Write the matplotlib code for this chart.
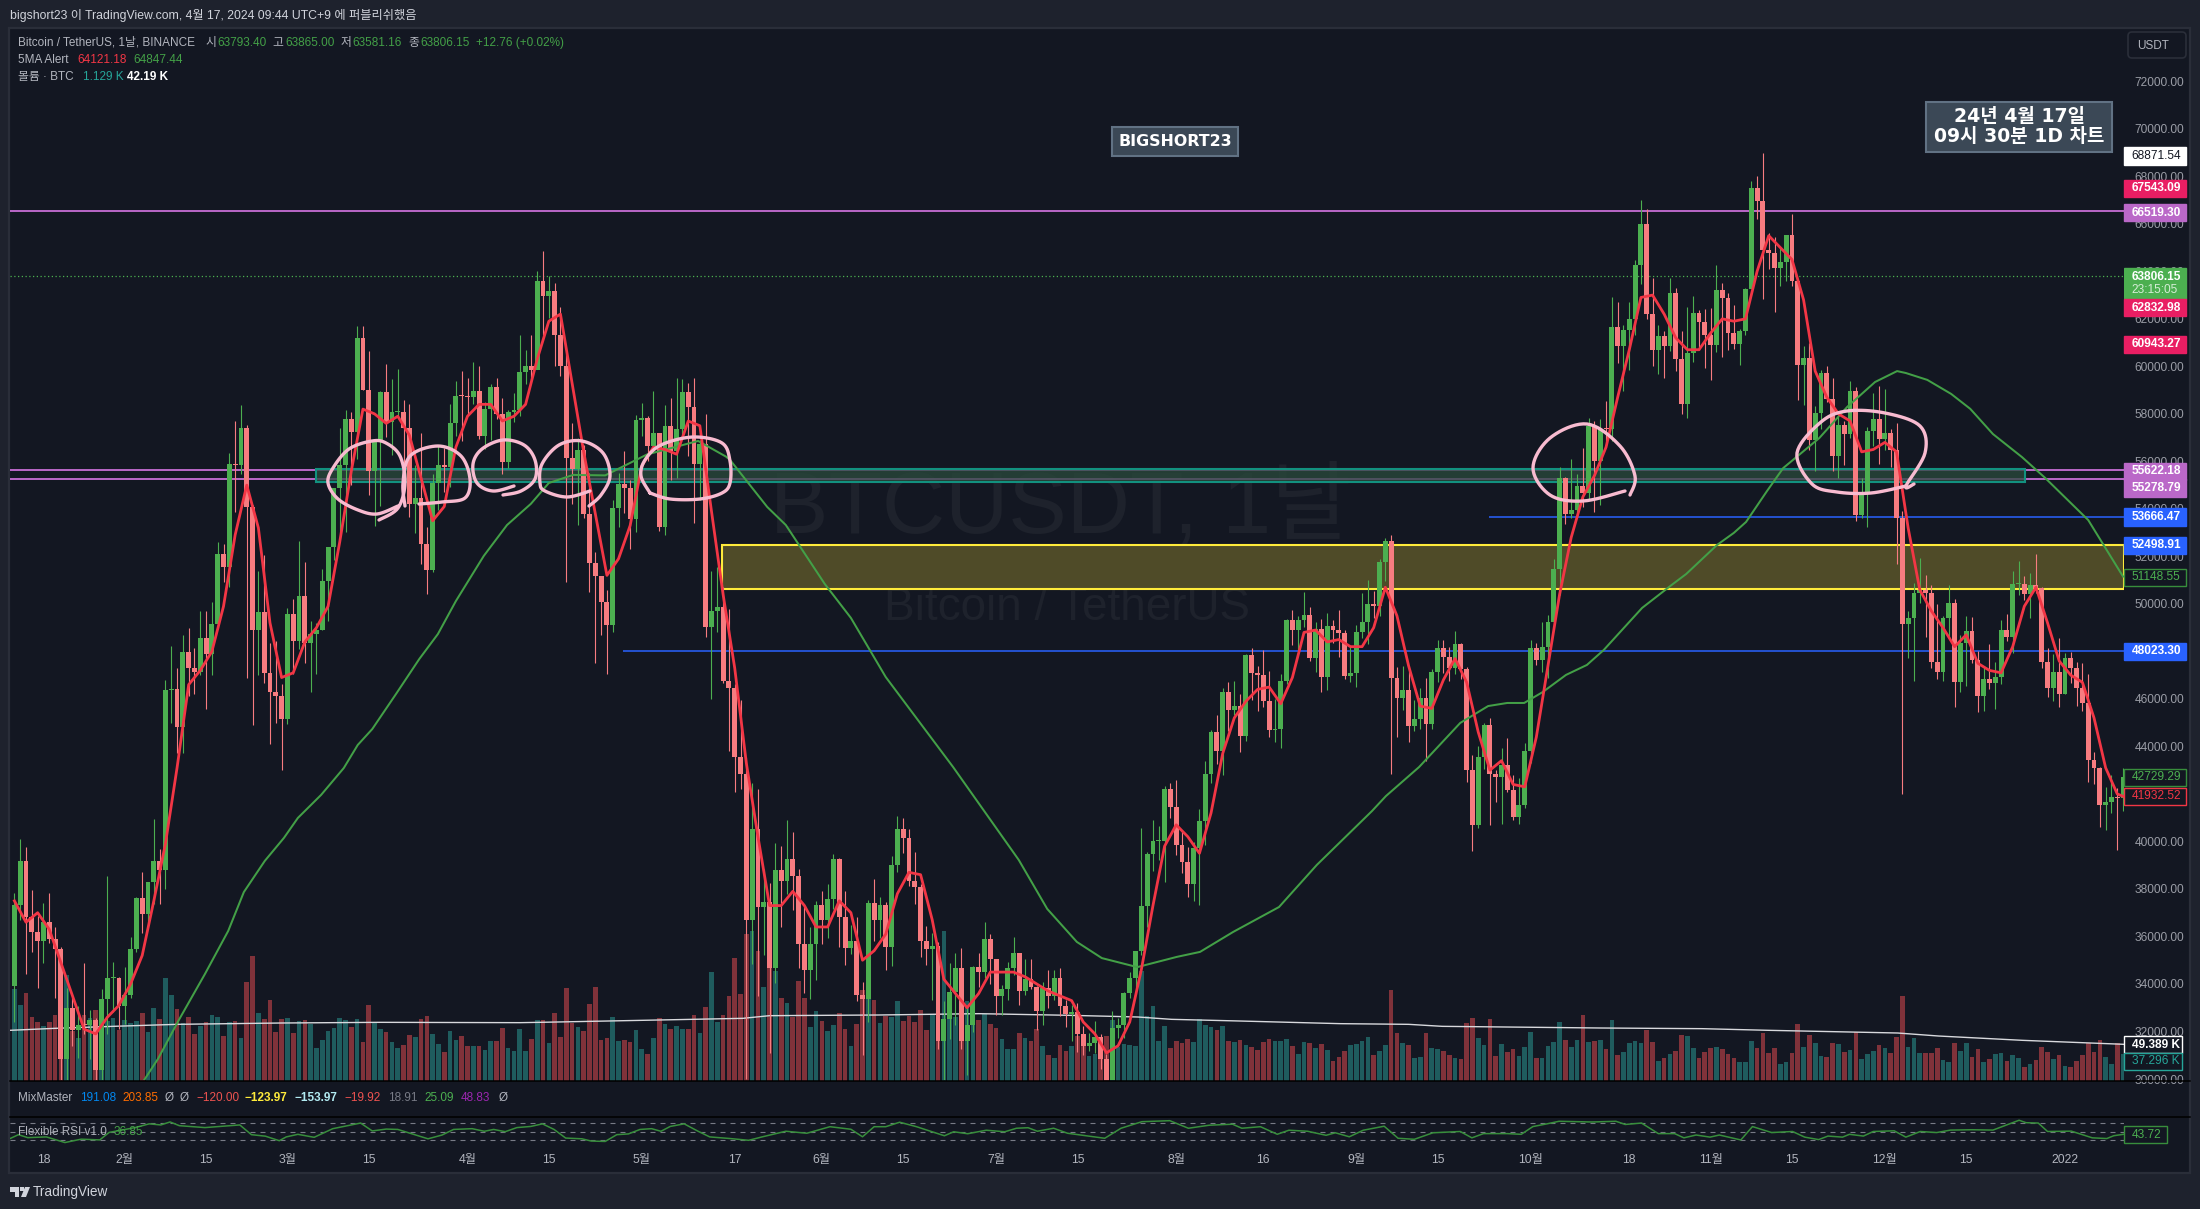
import numpy as np
import matplotlib
matplotlib.use("Agg")
import matplotlib.pyplot as plt
from matplotlib.lines import Line2D
from matplotlib.patches import Rectangle, Polygon, FancyBboxPatch
from matplotlib.transforms import Affine2D

FONT = ['Liberation Sans', 'Noto Sans CJK KR', 'DejaVu Sans']
BOXFONT = ['DejaVu Sans', 'Noto Sans CJK KR']
plt.rcParams['font.family'] = FONT

close = [
 37316,39187,36825,36178,35791,36630,35891,35468,30850,33005,32067,32289,32254,32467,30366,33364,34252,34262,33092,
 33526,35466,37618,36936,38290,39186,38795,46374,46420,44807,47969,47287,47153,48577,47911,49133,52119,51552,55906,55841,57408,54087,48891,49676,47073,46276,46106,45135,
 49587,48440,50349,48374,48751,48882,50971,52375,54884,55851,57773,57221,61188,59000,55600,56900,58913,57665,58075,58085,57411,54204,54478,52508,51408,55074,55863,55783,57635,58746,58740,
 58720,58950,57051,58202,59129,57991,55953,58077,58142,59770,60007,59860,63575,62959,63159,61334,60006,56150,55663,56473,53800,51701,51187,50089,49121,54053,55036,54881,53584,57750,
 57828,56631,57200,53241,57473,56428,57380,58928,58280,55883,56750,49007,49716,49880,46760,46456,43538,42849,36690,40526,37252,37449,34655,38796,38324,39241,38529,35664,34605,35684,37340,
 36693,37568,39246,36829,35520,35796,33552,33380,37389,36693,37313,35546,39020,40516,40144,38349,38092,35819,35483,35600,31608,32509,33678,34663,31584,32283,34700,34494,35911,35045,
 33504,33786,34669,35287,33690,34220,33863,32875,33815,33502,34259,33086,32729,32820,31880,31383,31520,31778,30839,29790,32144,32287,33634,34258,35381,37276,39474,40016,40016,42206,41461,
 39845,39147,38207,39723,40862,42836,44614,43792,46285,45543,45702,44422,47833,47109,47014,45902,44686,44741,46760,49339,48905,49321,49546,47706,48960,46942,49058,48897,48767,46970,47100,
 48810,49246,49999,49915,51756,52663,46863,46048,46395,44850,45173,46026,44947,47127,48148,47753,47303,48307,47260,43012,40693,43575,44895,42839,42717,43208,42171,41030,41519,43824,
 48141,47634,48200,49224,51471,55315,53785,53951,54949,54659,57471,56005,57367,57347,61672,60875,61528,62009,64280,66001,62193,60688,61286,60852,63078,60328,58413,60575,62253,61859,61299,
 60911,63219,62896,61395,60937,61470,63273,67525,66947,64882,64774,64122,64380,65519,63606,60058,60344,56891,58052,59707,58622,56247,57541,57138,58960,53726,54721,57274,57776,56950,
 57184,56480,53601,49152,49396,50441,50588,50471,47545,47140,49389,50053,46702,48343,48864,47632,46131,46834,46681,46914,48889,48588,50818,50854,50428,50801,50679,47543,46464,47120,46216,
 47722,47286,46446,45833,43431,43097,41546,41672,41864,41822,42729]
high = [
 37850,40100,39747,37950,36852,37399,37850,36415,35552,33826,33456,33071,34875,32921,32557,33783,38531,34934,34288,
 34717,35984,37662,38708,38310,40955,39700,46794,48216,47310,48678,48985,48150,49707,49700,50080,52618,52530,56368,57700,58352,57533,54183,51374,52041,48370,48425,46638,
 49829,50200,52640,51773,49300,49200,51450,52402,54895,57387,58150,58058,61683,61718,60633,56938,58974,60100,59451,59880,58592,58433,55830,57200,53229,55450,56700,56559,58405,59368,59800,
 59490,60200,60000,58488,59272,59500,58650,58153,58869,61300,60670,61300,64000,64854,63800,63520,62506,60499,57600,57000,56700,55521,52200,51167,50591,54356,55500,56428,55195,57963,
 58458,57911,58981,57200,58360,58650,59500,59464,59300,59500,56900,58000,51367,51540,50700,49800,46643,45950,43546,42451,42200,38856,38270,39920,39791,40900,40411,38856,37234,36400,37499,
 37896,38225,39476,39289,37925,36480,36800,34068,37534,38400,37680,37437,39380,41064,40978,40527,39559,38202,36457,36139,35750,33298,34881,35298,35500,33000,34749,35297,36600,36100,
 35036,33977,34945,35967,35118,35059,35056,33929,34100,34584,34594,34679,33340,33114,33185,32249,31949,32435,31899,31038,32858,32576,33650,34500,35398,40550,39542,40900,40640,42316,42448,
 42599,40499,39780,39969,41350,43392,44700,45310,46454,46700,46743,46218,47886,48144,47372,48053,47160,46000,47033,49382,49757,49500,50500,49875,49250,49355,49632,49309,49757,48909,48246,
 49125,50450,51000,50558,51900,52780,52920,47340,47400,47250,45969,46460,46880,47250,48500,48488,48177,48843,48372,47347,43639,44000,44978,45200,42999,43920,44350,42787,42690,44141,
 48495,48350,49228,49536,51895,55750,55332,56100,55489,56561,57839,57680,57777,58532,62933,62695,61720,62695,64486,67000,66639,63732,61747,61490,63710,63293,61496,62499,62980,62359,62405,
 62437,64270,63500,63086,62600,61560,63286,67789,68000,69000,65600,65450,64972,65550,66401,63616,60840,60977,58320,59845,60029,59500,57890,57700,59398,59150,55280,57445,58865,59176,
 59053,57375,57600,53904,49699,50891,51936,51200,50797,50015,49485,50777,50189,48700,49500,49436,48004,47360,48300,47537,49328,49576,51375,51810,51156,51280,52088,50704,48139,47900,48548,
 47954,47990,47570,47505,47070,43748,43145,42300,42786,42248,43100]
low = [
 32380,36701,34408,35357,33850,34875,35741,33400,28850,28800,31390,30900,31910,30837,29241,29842,31915,32825,32089,
 32296,33418,35362,36161,36570,37351,37351,37988,45000,43727,43727,46125,46202,47014,45570,47003,48947,50901,50710,53863,55477,46900,44892,47003,46674,44106,45000,43000,
 44950,47047,48100,47500,46300,47070,48882,49274,51845,53005,53025,55013,56100,59000,54568,53271,54123,57023,56270,57820,55450,53650,53000,51700,50427,51329,53961,54691,54901,57072,56872,
 57935,58428,56956,56500,56900,57801,55473,55700,57654,57900,59237,59369,59880,61301,62020,60000,59580,50931,54187,53329,53600,50500,47500,48676,47044,48807,53222,53813,52330,53013,
 57052,56035,56900,53057,52900,55200,55300,56975,56235,53400,54370,48600,46000,48800,46650,43825,42101,42207,30000,34850,33488,35200,31111,34031,36419,37800,37134,34684,33632,33379,34153,
 35666,35920,37170,35555,34800,35258,33300,31000,32396,35800,35936,34600,34757,38733,39506,38116,37365,35129,34803,33336,31251,28805,31683,32286,31275,30151,31973,33862,34231,34017,
 32711,32699,33316,34357,33125,33532,33770,32077,32261,33004,33306,32658,32200,31600,31133,31020,31179,31108,30407,29278,29482,31708,31716,33401,33851,35205,36383,38772,39200,38313,41000,
 39422,38690,37642,37508,37332,39853,42450,43261,42780,44663,45341,43770,44217,45971,45500,45660,44376,44203,43927,46646,48285,48074,49028,47600,47135,46300,46374,48371,47762,46853,46700,
 46512,48584,48316,49412,49500,50969,42843,44412,45513,44203,44669,44742,43370,44750,46700,47079,46750,47050,46829,42500,39600,40565,43069,40675,41646,40750,42098,40888,40753,41410,
 43283,47430,47120,46891,49056,50382,53357,53617,53661,54080,54415,53879,54167,56818,56850,60122,58963,59844,61322,63481,62000,60000,59668,59522,60650,59817,58000,57820,60174,60673,59945,
 59405,60624,60382,60677,60721,60050,61322,63286,66222,62822,64100,62278,63400,63576,63400,58574,58373,56474,55600,57353,58486,55610,55317,55837,57000,53500,53610,53256,56666,55875,
 56458,55777,51680,42000,47727,46751,50039,48600,47320,46851,46751,48638,45672,46290,46547,47511,45456,45500,46406,45558,46630,48421,47920,50384,50171,49426,50459,47313,46096,45900,45678,
 46208,46654,45696,45502,42500,42430,40610,40501,41200,39650,41268]
first_open = 33922

# volume, in panel units (3 units = 1 screen pixel)
volume = [
 275,228,264,192,177,165,177,198,270,318, 150,130,198,188,213,175,180,188,153,183,
 174,180,204,146,219,186,309,258,216,174, 192,141,165,177,198,192,135,177,180,129,
 297,375,204,186,243,147,186,189,144,180, 183,171,99,123,150,159,189,183,162,186,
 117,228,174,156,147,117,99,108,138,132, 186,195,141,111,87,150,123,135,105,105,
 105,93,120,120,159,99,90,156,90,126, 183,183,114,204,132,279,174,162,150,231,
 282,123,129,192,120,123,117,153,96,81, 129,189,171,156,165,156,156,198,144,222,
 327,177,198,255,369,261,440,450,390,282, 340,330,249,234,192,300,249,162,210,180,
 150,168,204,156,105,171,272,250,243,174, 195,192,240,180,195,177,213,153,200,400,
 450,230,192,200,240,210,183,200,171,159, 126,96,96,144,129,120,156,105,78,69,
 108,90,105,135,120,75,81,130,135,183, 102,111,108,105,330,195,225,120,165,99,
 120,114,126,117,186,168,162,153,165,120, 117,123,108,102,93,117,126,120,120,126,
 105,81,117,114,99,111,93,60,72,90, 108,111,120,132,78,90,108,273,144,114,
 108,69,72,144,99,96,90,78,69,66, 174,189,129,108,186,75,111,87,96,75,
 102,147,69,69,105,117,177,123,102,123, 198,117,120,123,96,183,78,87,114,120,
 114,153,117,60,69,81,90,138,135,99, 69,87,99,102,96,81,69,57,57,120,
 99,144,84,99,51,57,84,171,102,138, 114,75,72,114,111,87,93,147,66,81,
 90,108,99,84,132,255,102,129,84,84, 84,99,63,57,114,90,114,72,96,57,
 66,81,84,60,78,69,42,51,63,102, 87,66,78,45,42,60,78,114,87,123,
 72,51,114,80]

# 5MA (red line) every second bar, in thousands
ma5_k = [37.5,36.6,37.0,36.3,34.9,33.5,32.1,31.9,32.6,33.1,34.0,35.2,37.5,39.9,43.1,46.6,47.2,48.0,49.9,52.9,55.0,53.2,49.2,46.9,47.1,48.4,49.0,49.9,52.6,55.6,58.2,58.0,57.6,57.9,57.1,55.3,53.5,54.1,56.6,57.9,58.4,58.4,57.7,57.9,58.4,60.3,61.9,62.2,59.3,56.4,53.8,51.2,51.9,53.3,55.8,
 56.6,56.5,56.3,57.7,57.5,53.9,50.4,47.3,43.3,40.2,37.3,37.3,37.9,37.3,36.4,36.4,37.5,37.0,35.0,35.4,36.1,37.8,38.7,38.6,36.7,34.2,33.6,33.0,33.6,34.5,34.5,34.5,34.3,34.0,33.7,33.5,33.3,32.4,31.9,31.1,31.4,32.4,34.6,37.3,39.8,
 40.7,40.2,39.5,41.2,43.7,45.2,45.9,46.4,46.5,45.8,46.9,48.8,48.9,48.4,48.5,48.2,48.2,49.0,50.7,49.5,47.4,45.7,45.6,46.8,47.7,46.7,44.6,43.0,43.4,42.4,42.3,44.4,47.4,50.4,52.8,54.5,55.4,56.6,58.7,60.7,62.9,63.0,62.2,61.2,60.7,60.7,61.4,62.0,61.9,62.0,64.0,65.5,65.0,64.5,62.8,59.8,58.7,58.0,57.7,56.4,56.5,56.8,56.4,53.2,50.6,49.7,49.0,48.2,48.7,47.5,47.2,47.1,48.2,49.9,50.7,49.2,47.6,47.0,46.7,45.2,43.1,42.0]
ma5_last_k = 41.9

# long moving average (green line): bar position, value in thousands
ma_long_x = [22.1,24.7,28.3,32.8,36.8,39.5,43.1,46.4,48.8,52.8,56.7,59.1,61.6,65.7,69.7,72.9,76.0,80.8,84.8,88.9,92.0,96.2,101.7,108.9,117.7,122.5,123.2,129.6,132.8,139.5,144.0,150.0,161.6,172.9,177.8,182.9,187.2,193.3,200.1,204.1,209.8,217.7,224.2,233.7,236.1,241.8,248.9,253.7,257.0,259.9,263.1,267.1,270.7,273.6,280.2,285.3,287.8,293.1,296.0,298.1,301.7,304.5,310.7,315.5,320.3,324.1,325.6,329.3,333.4,336.7,340.6,345.6,349.6,357.0,363.0]
ma_long_k = [29.87,30.84,32.48,34.42,36.23,37.87,39.18,40.15,40.99,41.96,43.09,44.06,44.73,46.21,47.68,48.73,50.12,52.02,53.32,54.21,55.09,55.43,55.41,56.29,56.86,56.2,56.06,54.08,53.32,50.84,49.41,46.92,43.13,39.22,37.16,35.77,35.09,34.71,35.14,35.35,36.19,37.24,39.01,41.28,41.91,43.13,44.99,45.70,45.83,45.83,46.29,47.01,47.43,48.06,49.83,50.80,51.26,52.48,52.99,53.45,54.75,55.72,56.98,58.29,59.34,59.80,59.72,59.43,58.84,58.21,57.15,56.18,55.30,53.53,51.15]

# volume average (white line)
vol_ma_x = [-0.8,7,17,28,46,63,87,90.5,108,125.4,130,148.7,166,181.8,193.4,199.2,210.9,228.3,240,245.8,273,290.5,302.1,324.2,331.2,345.7,363.2]
vol_ma = [152,158,164,170,174,176,175,176,182,188,196,198,202,197,192,185,180,172,170,164,159,157,152,144,135,122,110]

rsi_x = [-0.7,0.7,2.3,5.5,8.7,11.5,14.7,16.3,20.8,23.2,25.2,26.8,28.4,32.8,38.8,40.8,43.2,45.6,46.8,48.8,51.6,54.8,59.6,61.6,64,66,71.2,73.6,75.6,78.8,80.9,82.5,84.5,86.5,88.9,90.9,92.9,94.9,97.7,99.3,101.7,103.7,105.7,107.7,109.7,111.3,112.9,115.3,117.7,119.7,123.2,
 126.4,128.8,132.8,136.4,140.4,144,146,148,150,152.4,155.3,160.1,161.7,164.1,167.3,170.5,172.5,174.5,176.1,178.9,181.3,185.7,187.7,190.5,194.1,198.9,202.1,205.7,209.7,211.3,214.5,217.4,219.4,222.6,225.8,227.4,229.8,232.2,235.8,238.2,241,244.2,248.9,
 250.9,252.9,257,259.4,261.4,263.9,265.9,271.6,275.7,277.3,280.1,283,285.8,287.4,289.5,291.9,293.5,297.2,299.2,302.5,306.1,308.2,310.6,312.2,314.7,315.9,318.3,320,323.6,325.6,328.1,330.9,333.3,337,340.6,345.1,346.3,348.4,350,354.1,357.7,360.2,361.4,363.1]
rsi = [34.3,42.8,36,37.7,24.9,32.6,30.9,47.9,58.9,67.4,64.9,71.7,63.2,58.9,64.9,42.8,39.4,29.1,37.7,43.6,36.8,56.4,69.2,51.3,55.5,54.7,33.4,41.9,54.7,56.4,50.5,54.7,49.6,58.9,61.5,67.4,54.7,35.1,33.4,28.3,27.4,42.8,44.5,54.7,56.4,50.5,61.5,67.4,50.5,37.7,34.0,
 30,38,50.6,46,60.9,55.1,38,60.9,60.9,71.1,60.9,40.3,49.4,44.9,52.9,49.4,57.4,58.6,50.6,57.4,46,38,34.6,57.4,72.3,74.6,57.4,64.3,66.6,57.4,60.9,43.7,52.9,50.6,41.4,47.1,38,52.9,62,34.6,32.3,47.1,50.0,
 35.6,45.2,45.2,43.6,61.2,67.6,73.2,71.6,73.2,66,69.2,45.2,45.2,35.6,42,37.2,42,30.8,61.2,47.6,50,37.2,31.6,39.6,37.2,43.6,39.6,50,51.6,37.2,50,47.6,53.2,54,53.2,75.6,70,69.2,50,50.8,35.6,34,40.4,43.7]

tick_pos = [5,19,33,47,61,78,92,108,124,139,153,169,183,200,215,231,245,261,278,292,306,322,336,353]
tick_lab = ['18','2월','15','3월','15','4월','15','5월','17','6월','15','7월','15','8월','16','9월','15','10월','18','11월','15','12월','15','2022']
price_ticks = list(range(30000, 72001, 2000))

W, H = 2200, 1209
YS = 1.0   # global downward shift of the layout, px
BG = '#131722'; PAGE = '#1e222d'; EDGE = '#2a2e39'
UP = '#4caf50'; DN = '#f77c80'; VUP = '#1f5c5e'; VDN = '#80323a'
GREY = '#b2b5be'

fig = plt.figure(figsize=(22, 12.09), dpi=100, facecolor=PAGE)
px = Affine2D().scale(1, -1).translate(0, H - YS)

def add_ax(x0, y0, x1, y1, z):
    a = fig.add_axes([x0/W, 1-(y1+YS)/H, (x1-x0)/W, (y1-y0)/H], zorder=z)
    a.set_facecolor('none')
    for s in a.spines.values():
        s.set_visible(False)
    a.tick_params(length=0, labelleft=False, labelbottom=False)
    return a

fig.add_artist(Rectangle((8.5, 26.5), 2181, 1145, transform=px, facecolor=BG, edgecolor=EDGE, linewidth=1.6, zorder=0))

SLOPE = 0.023755; Y30K = 1078.0; BAR0 = 14.4; BARW = 5.809
price_of = lambda y: 30000 + (Y30K - y) / SLOPE
idx_of = lambda x: (x - BAR0) / BARW
XL = (idx_of(10), idx_of(2124))

# ---- volume pane (behind)
vax = add_ax(10, 28, 2124, 1080, 1)
vax.set_xlim(*XL); vax.set_ylim(0, (1080-28)*3)
x = np.arange(len(close))
opn = [first_open] + close[:-1]
isup = np.array(close) >= np.array(opn)
vax.bar(x, volume, width=0.80, color=[VUP if u else VDN for u in isup], linewidth=0)
vax.plot(vol_ma_x, vol_ma, color='#d8d9dd', lw=1.0, solid_capstyle='butt')
vax.text(1061, 508, 'BTCUSDT, 1날', transform=px, ha='center', va='center', fontsize=63, color='#1e222c')
vax.text(1067, 607, 'Bitcoin / TetherUS', transform=px, ha='center', va='center', fontsize=33, color='#1e222c')

# ---- price pane
ax = add_ax(10, 28, 2124, 1079, 2)
ax.set_xlim(*XL); ax.set_ylim(price_of(1079), price_of(28))
for p, x0 in [(66519.30, XL[0]), (55622.18, XL[0]), (55278.79, XL[0])]:
    ax.hlines(p, x0, XL[1], color='#ba68c8', lw=1.4, zorder=1.2)
for p, x0 in [(53666.47, idx_of(1489)), (48023.30, idx_of(623))]:
    ax.hlines(p, x0, XL[1], color='#2962ff', lw=1.1, zorder=1.2)
ax.hlines(63806.15, XL[0], XL[1], color=UP, lw=0.9, linestyles=(0, (1, 2)), zorder=1.2)
ax.add_patch(Rectangle((idx_of(722), 50627), XL[1]-idx_of(722), 52498.91-50627, facecolor='#4f4b28', edgecolor='#ffeb3b', lw=1.5, zorder=1))
ax.add_patch(Rectangle((idx_of(316), 55132), idx_of(2025)-idx_of(316), 55658-55132, facecolor='#2a4a3c', alpha=0.75, edgecolor='none', zorder=1.3))
ax.add_patch(Rectangle((idx_of(316), 55132), idx_of(2025)-idx_of(316), 55658-55132, facecolor='none', edgecolor='#12917f', lw=1.5, zorder=1.4))

cols = [UP if u else DN for u in isup]
ax.vlines(x, low, high, colors=cols, lw=0.8, zorder=2)
bott = np.minimum(opn, close); top = np.maximum(opn, close)
ax.bar(x, np.maximum(top-bott, 45), bottom=bott, width=0.84, color=cols, linewidth=0, zorder=2.1)
ax.plot(ma_long_x, np.array(ma_long_k)*1000, color='#43a047', lw=1.45, zorder=3)
ma5_x = list(range(0, 364, 2)) + [363]
ax.plot(ma5_x, np.array(ma5_k + [ma5_last_k])*1000, color='#f23645', lw=2.0, zorder=3.2, solid_joinstyle='round')

# ---- indicator panes
fig.add_artist(Line2D([10, 2190], [1080, 1080], transform=px, color='#000000', lw=1.1, zorder=5))
fig.add_artist(Line2D([10, 2190], [1115.5, 1115.5], transform=px, color='#000000', lw=1.1, zorder=5))
rax_i = add_ax(10, 1116, 2124, 1150, 2)
rax_i.set_xlim(*XL); rax_i.set_ylim(50-(1150-1130.5)/0.44, 50+(1130.5-1116)/0.44)
for lv in (30, 50, 70):
    rax_i.axhline(lv, color='#787b86', lw=0.8, ls=(0, (4.5, 4.5)))
rax_i.plot(rsi_x, rsi, color='#388e3c', lw=1.1)
rax_i.set_xticks(tick_pos, tick_lab)
rax_i.tick_params(axis='x', labelbottom=True, labelsize=8.8, labelcolor=GREY, pad=2)

# ---- price scale
rp = add_ax(2124, 28, 2190, 1079, 3)
rp.set_xlim(2124, 2190); rp.set_ylim(price_of(1079), price_of(28))
rp.set_yticks(price_ticks, [f'{t:.2f}' for t in price_ticks])
rp.tick_params(axis='y', labelleft=True, labelsize=8.6, labelcolor='#9a9da6', pad=-7.7)
rp.set_axisbelow(True)
for t in rp.get_yticklabels():
    t.set_ha('left'); t.set_zorder(0.5)

def plabel(y, text, bg, fg, edge=None, x1=2186, h=17, weight='bold', size=8.6):
    rp.add_patch(Rectangle((2124, price_of(y+h/2)), x1-2124, h/SLOPE, facecolor=bg,
                           edgecolor=edge or bg, lw=1.0, zorder=3, clip_on=False))
    rp.text(2131.7, price_of(y), text, color=fg, fontsize=size, fontweight=weight, va='center', ha='left', zorder=4, clip_on=False)

plabel(155, '68871.54', '#ffffff', '#131722', weight='normal')
plabel(187, '67543.09', '#e91e63', '#ffffff')
plabel(211.5, '66519.30', '#ba68c8', '#ffffff')
rp.add_patch(Rectangle((2124, price_of(297.7)), 62, (297.7-267)/SLOPE, facecolor=UP, edgecolor=UP, zorder=3))
rp.text(2131.7, price_of(276), '63806.15', color='#ffffff', fontsize=8.6, fontweight='bold', va='center', zorder=4)
rp.text(2131.7, price_of(289), '23:15:05', color='#d5edd6', fontsize=8.6, va='center', zorder=4)
plabel(306.7, '62832.98', '#e91e63', '#ffffff')
plabel(343, '60943.27', '#e91e63', '#ffffff')
plabel(470, '55622.18', '#ba68c8', '#ffffff')
plabel(487, '55278.79', '#ba68c8', '#ffffff')
plabel(516, '53666.47', '#2962ff', '#ffffff')
plabel(544, '52498.91', '#2962ff', '#ffffff')
plabel(576.5, '51148.55', BG, '#4caf50', edge='#388e3c', weight='normal')
plabel(650, '48023.30', '#2962ff', '#ffffff')
plabel(776.4, '42729.29', BG, '#4caf50', edge='#388e3c', weight='normal')
plabel(795, '41932.52', BG, '#f23645', edge='#f23645', weight='normal')
plabel(1043.5, '49.389 K', BG, '#ffffff', edge='#ffffff', x1=2182)
plabel(1060.5, '37.296 K', BG, '#26a69a', edge='#26a69a', x1=2182, weight='normal')
fig.add_artist(Rectangle((2124, 1125), 43, 17, transform=px, facecolor=BG, edgecolor='#388e3c', lw=1, zorder=6))
fig.text(2131.7, 1133.5, '43.72', transform=px, color='#4caf50', fontsize=8.6, va='center', zorder=7)

def T(x, y, s, color=GREY, size=8.5, weight='normal', **k):
    fig.text(x, y, s, transform=px, color=color, fontsize=size, fontweight=weight, va='center', ha=k.pop('ha', 'left'), zorder=7, **k)

T(10, 14.7, 'bigshort23 이 TradingView.com, 4월 17, 2024 09:44 UTC+9 에 퍼블리쉬했음', '#d1d4dc', 8.8)
G = '#43a047'
for xx, s, c in [(18, 'Bitcoin / TetherUS, 1날, BINANCE', GREY), (205.5, '시', GREY), (217, '63793.40', G), (272.5, '고', GREY), (285, '63865.00', G),
                 (341, '저', GREY), (352.5, '63581.16', G), (408, '종', GREY), (420, '63806.15', G), (476, '+12.76 (+0.02%)', G)]:
    T(xx, 41.7, s, c)
for xx, s, c in [(18, '5MA Alert', GREY), (77, '64121.18', '#f23645'), (133, '64847.44', G)]:
    T(xx, 58.7, s, c)
T(18, 75.7, '볼륨 · BTC', GREY); T(82.7, 75.7, '1.129 K', '#26a69a'); T(127, 75.7, '42.19 K', '#ffffff', weight='bold')

for xx, s, c, w in [(18, 'MixMaster', GREY, 'normal'), (79.7, '191.08', '#0288f0', 'normal'), (122, '203.85', '#ff6d00', 'normal'), (165, 'Ø', GREY, 'normal'),
                    (180, 'Ø', GREY, 'normal'), (196, '−120.00', '#ef5350', 'normal'), (245, '−123.97', '#ffeb3b', 'bold'), (295, '−153.97', '#b2ebf2', 'bold'),
                    (344, '−19.92', '#ef5350', 'normal'), (388, '18.91', '#787b86', 'normal'), (424, '25.09', '#4caf50', 'normal'), (461, '48.83', '#9c27b0', 'normal'), (499, 'Ø', GREY, 'normal')]:
    T(xx, 1096.7, s, c, weight=w)
T(18, 1130.7, 'Flexible RSI v1.0', GREY); T(114, 1130.7, '36.85', G)

# boxes
fig.add_artist(Rectangle((1112, 126), 126, 29, transform=px, facecolor='#3b4856', edgecolor='#617284', lw=1.5, zorder=6))
T(1175, 140.5, 'BIGSHORT23', '#ffffff', 11.4, 'bold', ha='center', family=BOXFONT)
fig.add_artist(Rectangle((1926, 100.5), 186, 50, transform=px, facecolor='#3b4856', edgecolor='#617284', lw=1.5, zorder=6))
T(2019, 115, '24년 4월 17일', '#ffffff', 13.6, 'bold', ha='center', family=BOXFONT)
T(2019, 135, '09시 30분 1D 차트', '#ffffff', 13.6, 'bold', ha='center', family=BOXFONT)
fig.add_artist(FancyBboxPatch((2130, 33), 54, 22, boxstyle='round,pad=2,rounding_size=4', transform=px, facecolor=BG, edgecolor=EDGE, lw=1.2, zorder=6))
T(2137, 44.7, 'USDT', GREY, 8.5)

# TradingView mark
for poly in ([(10, 1186), (19, 1186), (19, 1196), (15, 1196), (15, 1190.5), (10, 1190.5)],
             [(30, 1186), (26, 1196), (21, 1196), (25, 1186)]):
    fig.add_artist(Polygon(poly, closed=True, transform=px, facecolor='#d1d4dc', edgecolor='none', zorder=6))
fig.add_artist(Rectangle((20.3, 1186), 3.4, 3.8, transform=px, facecolor='#d1d4dc', edgecolor='none', zorder=6))
T(33, 1191, 'TradingView', '#d1d4dc', 9.8)

# hand drawn circles
def smooth(P, n=10):
    P = np.array(P, float); P = np.vstack([P[0], P, P[-1]]); out = []
    for i in range(1, len(P)-2):
        a, b, c, d = P[i-1], P[i], P[i+1], P[i+2]
        for t in np.linspace(0, 1, n, endpoint=False):
            out.append(0.5*((2*b)+(-a+c)*t+(2*a-5*b+4*c-d)*t**2+(-a+3*b-3*c+d)*t**3))
    out.append(P[-2]); return np.array(out)

strokes = [
 [(379,519),(398,507),(405,482),(400,455),(386,442),(372,440),(349,448),(333,467),(328,482),(338,498),(358,509),(377,513),(398,505)],
 [(405,505),(403,482),(410,455),(438,445),(461,455),(470,478),(465,497),(442,501),(419,503)],
 [(514,485),(493,490),(477,482),(473,463),(482,448),(503,439),(524,444),(535,459),(535,478),(521,490),(503,494)],
 [(589,505),(601,494),(610,475),(603,452),(582,440),(559,444),(542,463),(540,482),(545,490),(567,496),(590,490)],
 [(650,492),(641,475),(645,459),(661,444),(693,436),(722,442),(730,460),(730,482),(722,492),(700,498),(670,498),(650,492)],
 [(1625,490),(1583,500),(1550,494),(1533,467),(1550,437),(1587,423),(1620,445),(1635,475),(1630,494)],
 [(1906,485),(1871,492),(1837,491),(1812,483),(1797,452),(1821,421),(1847,410),(1885,412),(1920,425),(1925,452),(1906,485),(1914,483)],
]
for s in strokes:
    q = smooth(s)
    fig.add_artist(Line2D(q[:, 0], q[:, 1], transform=px, color='#f8bbd0', lw=2.4, zorder=8, solid_capstyle='round'))

fig.savefig('out.png', dpi=100, facecolor=PAGE)
